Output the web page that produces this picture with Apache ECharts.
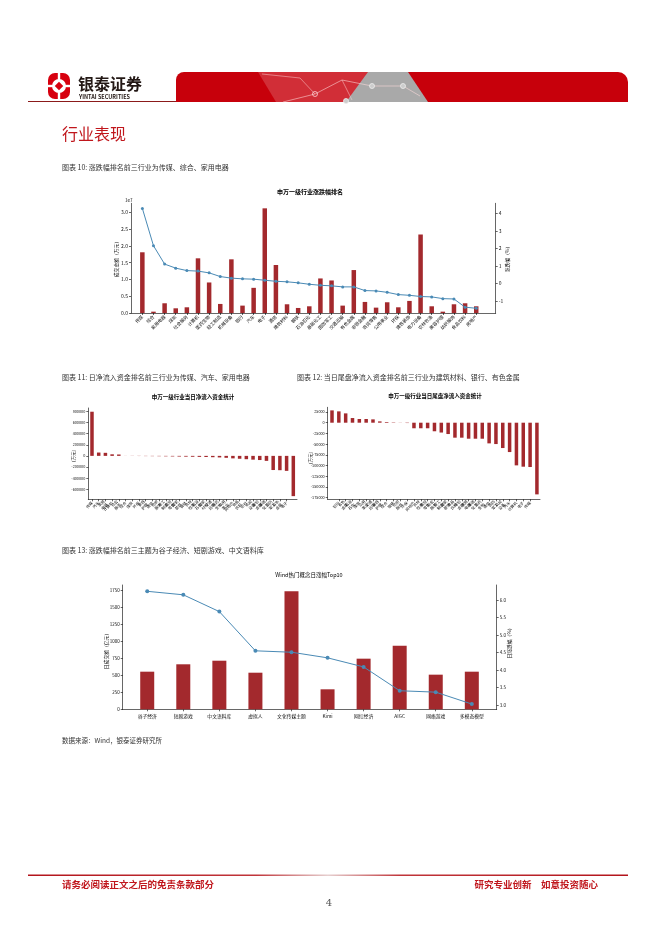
<!DOCTYPE html>
<html><head><meta charset="utf-8">
<script src="https://cdn.jsdelivr.net/npm/echarts@6/dist/echarts.min.js"></script>
<style>html,body{margin:0;padding:0;background:#fff;}#c{width:662px;height:936px;}</style>
</head><body><div id="c"></div>
<script>
// ---- Chart 1: 申万一级行业涨跌幅排名 ----
const ind1 = ['传媒','综合','家用电器','煤炭','社会服务','计算机','医药生物','轻工制造','机械设备','银行','汽车','电子','通信','建筑材料','钢铁','石油石化','基础化工','国防军工','交通运输','有色金属','非银金融','商贸零售','公用事业','环保','建筑装饰','电力设备','农林牧渔','美容护理','纺织服饰','食品饮料','房地产'];
const vol1 = [1.81,0.04,0.29,0.14,0.17,1.63,0.91,0.27,1.60,0.22,0.75,3.12,1.43,0.26,0.15,0.20,1.03,0.97,0.22,1.28,0.33,0.16,0.32,0.17,0.36,2.34,0.20,0.04,0.26,0.29,0.20];
const chg1 = [4.29,2.16,1.11,0.88,0.74,0.71,0.61,0.40,0.31,0.27,0.25,0.19,0.13,0.10,0.04,-0.04,-0.10,-0.13,-0.19,-0.19,-0.40,-0.42,-0.50,-0.63,-0.67,-0.74,-0.76,-0.86,-0.88,-1.35,-1.41];
const ticks1L = [0,0.5,1,1.5,2,2.5,3];
const ticks1R = [-1,0,1,2,3,4];
// ---- Chart 2: 当日净流入资金 ----
const ind2 = ['传媒','汽车','家用电器','计算机','社会服务','综合','煤炭','环保','美容护理','通信','纺织服饰','轻工制造','商贸零售','建筑装饰','钢铁','农林牧渔','石油石化','建筑材料','交通运输','医药生物','公用事业','房地产','食品饮料','银行','机械设备','非银金融','基础化工','国防军工','有色金属','电子','电力设备'];
const flow2 = [795000,60000,55000,28000,25000,1000,-2000,-3000,-4000,-5000,-6000,-8000,-10000,-12000,-14000,-16000,-18000,-20000,-24000,-28000,-35000,-45000,-52000,-60000,-68000,-75000,-90000,-255000,-258000,-270000,-725000];
const ticks2 = [-600000,-400000,-200000,0,200000,400000,600000,800000];
// ---- Chart 3: 当日尾盘净流入资金 ----
const ind3 = ['建筑材料','银行','有色金属','石油石化','煤炭','公用事业','交通运输','美容护理','综合','钢铁','纺织服饰','环保','房地产','农林牧渔','商贸零售','社会服务','轻工制造','建筑装饰','食品饮料','非银金融','家用电器','基础化工','医药生物','通信','国防军工','机械设备','汽车','计算机','电子','传媒','电力设备'];
const tail3 = [28800,26500,21800,10900,8600,8600,7800,3100,1600,800,-300,-800,-13000,-13000,-13000,-20000,-23000,-26500,-35000,-35000,-37400,-37400,-37400,-48300,-49900,-59200,-68600,-99700,-102800,-103600,-167500];
const ticks3 = [-175000,-150000,-125000,-100000,-75000,-50000,-25000,0,25000];
// ---- Chart 4: Wind热门概念日涨幅Top10 ----
const concepts4 = ['谷子经济','短剧游戏','中文语料库','虚拟人','文化传媒主题','Kimi','网红经济','AIGC','网络游戏','多模态模型'];
const amt4 = [555,664,717,540,1741,295,747,939,511,555];
const chg4 = [6.25,6.15,5.67,4.55,4.51,4.35,4.09,3.41,3.37,3.03];
const ticks4L = [0,250,500,750,1000,1250,1500,1750];
const ticks4R = [3.0,3.5,4.0,4.5,5.0,5.5,6.0];

const FONT = '"Noto Sans CJK SC", "Noto Sans", sans-serif';
const BAR = '#a3292d';
const LINE = '#4a8ab5';
const AX = {color:'#000', width:0.6};

function idx(n){ const a=[]; for(let i=0;i<n;i++) a.push(i); return a; }
function split2(s){ return s.length===4 ? s.slice(0,2)+'\n'+s.slice(2) : s; }

function xVal(g, cats, min, max, o){
  const iv = idx(cats.length);
  return {gridIndex:g, type:'value', min:min, max:max,
    axisLine:{show:true,onZero:false,lineStyle:AX},
    axisTick:{show:true,customValues:iv,length:2,lineStyle:AX},
    axisLabel:Object.assign({customValues:iv, formatter:v=>cats[Math.round(v)], color:'#111', fontFamily:FONT}, o),
    splitLine:{show:false}};
}
function yVal(g, min, max, tv, pos, fmt, fs){
  return {gridIndex:g, type:'value', min:min, max:max, position:pos,
    axisLine:{show:true,onZero:false,lineStyle:AX},
    axisTick:{show:true,customValues:tv,length:2,lineStyle:AX},
    axisLabel:{customValues:tv, formatter:fmt, fontSize:fs, color:'#111', margin:3, fontFamily:FONT},
    splitLine:{show:false}};
}
function pts(vals){ return vals.map((v,i)=>[i,v]); }

const txt = (x,y,text,font,fill,extra) => Object.assign({type:'text', x:x, y:y, silent:true,
  style:Object.assign({text:text, font:font, fill:fill, align:'left', verticalAlign:'middle'}, {})}, extra||{});

const graphic = [
  // header logo
  {type:'rect', shape:{x:48,y:73,width:22,height:26,r:7}, style:{fill:'#d7000f'}},
  {type:'circle', shape:{cx:59,cy:86,r:7}, style:{fill:'#fff'}},
  {type:'rect', shape:{x:57.8,y:73,width:2.4,height:26}, style:{fill:'#fff'}},
  {type:'rect', shape:{x:48,y:84.8,width:22,height:2.4}, style:{fill:'#fff'}},
  {type:'rect', shape:{x:-3,y:-3,width:6,height:6}, x:59, y:86, rotation:Math.PI/4, style:{fill:'#d7000f'}},
  txt(78,84,'银泰证券','bold 16px '+FONT,'#231815'),
  txt(79,96.5,'YINTAI SECURITIES','bold 5.5px '+FONT,'#231815'),
  // banner
  {type:'rect', shape:{x:176,y:72,width:452,height:30,r:[8,10,0,0]}, style:{fill:'#c7000b'}},
  {type:'polygon', shape:{points:[[258,72],[368,72],[356,102],[276,102]]}, style:{fill:'rgba(255,255,255,0.18)'}},
  {type:'polygon', shape:{points:[[368,72],[408,72],[428,102],[346,102]]}, style:{fill:'#a9a9a9'}},
  {type:'polyline', shape:{points:[[283,102],[315,94],[342,80],[372,86],[403,86],[420,96]]}, style:{stroke:'rgba(255,220,220,0.7)',lineWidth:0.8,fill:null}},
  {type:'polyline', shape:{points:[[315,94],[300,78],[262,74]]}, style:{stroke:'rgba(255,220,220,0.6)',lineWidth:0.8,fill:null}},
  {type:'polyline', shape:{points:[[342,80],[352,100]]}, style:{stroke:'rgba(255,220,220,0.6)',lineWidth:0.8,fill:null}},
  {type:'circle', shape:{cx:315,cy:94,r:2.5}, style:{fill:'none',stroke:'rgba(255,230,230,0.9)',lineWidth:0.8}},
  {type:'circle', shape:{cx:372,cy:86,r:2.5}, style:{fill:'#ccc',stroke:'#eee',lineWidth:0.8}},
  {type:'circle', shape:{cx:403,cy:86,r:2.5}, style:{fill:'#ccc',stroke:'#eee',lineWidth:0.8}},
  {type:'circle', shape:{cx:346,cy:101,r:2.5}, style:{fill:'#ccc',stroke:'#eee',lineWidth:0.8}},
  {type:'line', shape:{x1:28,y1:101.5,x2:176,y2:101.5}, style:{stroke:'#8b1a1a',lineWidth:1}},
  // section title & captions
  txt(62,134,'行业表现','16px '+FONT,'#c0161c'),
  txt(62,167,'图表 10: 涨跌幅排名前三行业为传媒、综合、家用电器','7px '+FONT,'#333'),
  txt(62,377,'图表 11: 日净流入资金排名前三行业为传媒、汽车、家用电器','7px '+FONT,'#333'),
  txt(297,377,'图表 12: 当日尾盘净流入资金排名前三行业为建筑材料、银行、有色金属','7px '+FONT,'#333'),
  txt(62,550,'图表 13: 涨跌幅排名前三主题为谷子经济、短剧游戏、中文语料库','7px '+FONT,'#333'),
  txt(62,741,'数据来源：Wind，银泰证券研究所','6.5px '+FONT,'#333'),
  // chart titles
  txt(310,192,'申万一级行业涨跌幅排名','bold 6px '+FONT,'#000',{style:{text:'申万一级行业涨跌幅排名',font:'bold 6px '+FONT,fill:'#000',align:'center',verticalAlign:'middle'}}),
  {type:'text', x:193, y:396.5, style:{text:'申万一级行业当日净流入资金统计', font:'bold 5.5px '+FONT, fill:'#000', align:'center', verticalAlign:'middle'}},
  {type:'text', x:435, y:396, style:{text:'申万一级行业当日尾盘净流入资金统计', font:'bold 5.5px '+FONT, fill:'#000', align:'center', verticalAlign:'middle'}},
  {type:'text', x:309, y:575, style:{text:'Wind热门概念日涨幅Top10', font:'5.5px '+FONT, fill:'#000', align:'center', verticalAlign:'middle'}},
  // axis names
  {type:'text', x:125, y:200, style:{text:'1e7', font:'4.5px '+FONT, fill:'#111', align:'left', verticalAlign:'middle'}},
  {type:'text', x:116, y:258, rotation:Math.PI/2, style:{text:'成交金额（万元）', font:'4.8px '+FONT, fill:'#111', align:'center', verticalAlign:'middle'}},
  {type:'text', x:507, y:258, rotation:Math.PI/2, style:{text:'涨跌幅（%）', font:'4.8px '+FONT, fill:'#111', align:'center', verticalAlign:'middle'}},
  {type:'text', x:73, y:456, rotation:Math.PI/2, style:{text:'（万元）', font:'4.5px '+FONT, fill:'#111', align:'center', verticalAlign:'middle'}},
  {type:'text', x:310, y:458, rotation:Math.PI/2, style:{text:'（万元）', font:'4.5px '+FONT, fill:'#111', align:'center', verticalAlign:'middle'}},
  {type:'text', x:106.5, y:650, rotation:Math.PI/2, style:{text:'日成交额（亿元）', font:'4.8px '+FONT, fill:'#111', align:'center', verticalAlign:'middle'}},
  {type:'text', x:509, y:642, rotation:Math.PI/2, style:{text:'日涨跌幅（%）', font:'4.8px '+FONT, fill:'#111', align:'center', verticalAlign:'middle'}},
  // footer
  {type:'rect', shape:{x:28,y:874.5,width:600,height:1.6}, style:{fill:new echarts.graphic.LinearGradient(0,0,1,0,[{offset:0,color:'#b3141b'},{offset:0.38,color:'#c0353a'},{offset:0.5,color:'#e6cfcf'},{offset:0.62,color:'#c0353a'},{offset:1,color:'#b3141b'}])}},
  txt(62,884.5,'请务必阅读正文之后的免责条款部分','bold 9.5px '+FONT,'#c0161c'),
  {type:'text', x:598, y:884.5, style:{text:'研究专业创新　如意投资随心', font:'bold 9.5px '+FONT, fill:'#c0161c', align:'right', verticalAlign:'middle'}},
  {type:'text', x:329, y:903, style:{text:'4', font:'10px "DejaVu Serif", serif', fill:'#555', align:'center', verticalAlign:'middle'}}
];

const option = {
  animation:false,
  backgroundColor:'#fff',
  textStyle:{fontFamily:FONT},
  graphic:graphic,
  grid:[
    {left:131, top:203.3, width:364.7, height:109.7},
    {left:88.3, top:408, width:208.7, height:91.3},
    {left:327.7, top:407.3, width:212.3, height:92},
    {left:122.7, top:585, width:374, height:124.3}
  ],
  xAxis:[
    xVal(0, ind1, -1.02, 31.75, {rotate:45, fontSize:4.5, margin:3}),
    xVal(1, ind2.map(split2), -0.55, 30.55, {rotate:45, fontSize:3.8, margin:3, lineHeight:4.5}),
    xVal(2, ind3.map(split2), -0.63, 30.45, {rotate:45, fontSize:3.8, margin:3, lineHeight:4.5}),
    xVal(3, concepts4, -0.68, 9.69, {rotate:0, fontSize:4.8, margin:4})
  ],
  yAxis:[
    yVal(0, 0, 3.27, ticks1L, 'left', v=>v.toFixed(1), 5),
    yVal(0, -1.68, 4.58, ticks1R, 'right', v=>String(v), 5),
    yVal(1, -782000, 862000, ticks2, 'left', v=>String(v), 3.8),
    yVal(2, -179000, 36000, ticks3, 'left', v=>String(v), 3.8),
    yVal(3, 0, 1834, ticks4L, 'left', v=>String(v), 4.5),
    yVal(3, 2.88, 6.43, ticks4R, 'right', v=>v.toFixed(1), 4.5)
  ],
  series:[
    {type:'bar', xAxisIndex:0, yAxisIndex:0, data:pts(vol1), barWidth:4.5, itemStyle:{color:BAR}, z:2},
    {type:'line', xAxisIndex:0, yAxisIndex:1, data:pts(chg1), symbol:'circle', symbolSize:3, lineStyle:{color:LINE,width:1}, itemStyle:{color:LINE}, z:3},
    {type:'bar', xAxisIndex:1, yAxisIndex:2, data:pts(flow2), barWidth:3.5, itemStyle:{color:BAR}},
    {type:'bar', xAxisIndex:2, yAxisIndex:3, data:pts(tail3), barWidth:3.5, itemStyle:{color:BAR}},
    {type:'bar', xAxisIndex:3, yAxisIndex:4, data:pts(amt4), barWidth:14, itemStyle:{color:BAR}, z:2},
    {type:'line', xAxisIndex:3, yAxisIndex:5, data:pts(chg4), symbol:'circle', symbolSize:4, lineStyle:{color:LINE,width:1}, itemStyle:{color:LINE}, z:3}
  ]
};
const chart = echarts.init(document.getElementById('c'), null, {renderer:'canvas'});
chart.setOption(option);
</script></body></html>
